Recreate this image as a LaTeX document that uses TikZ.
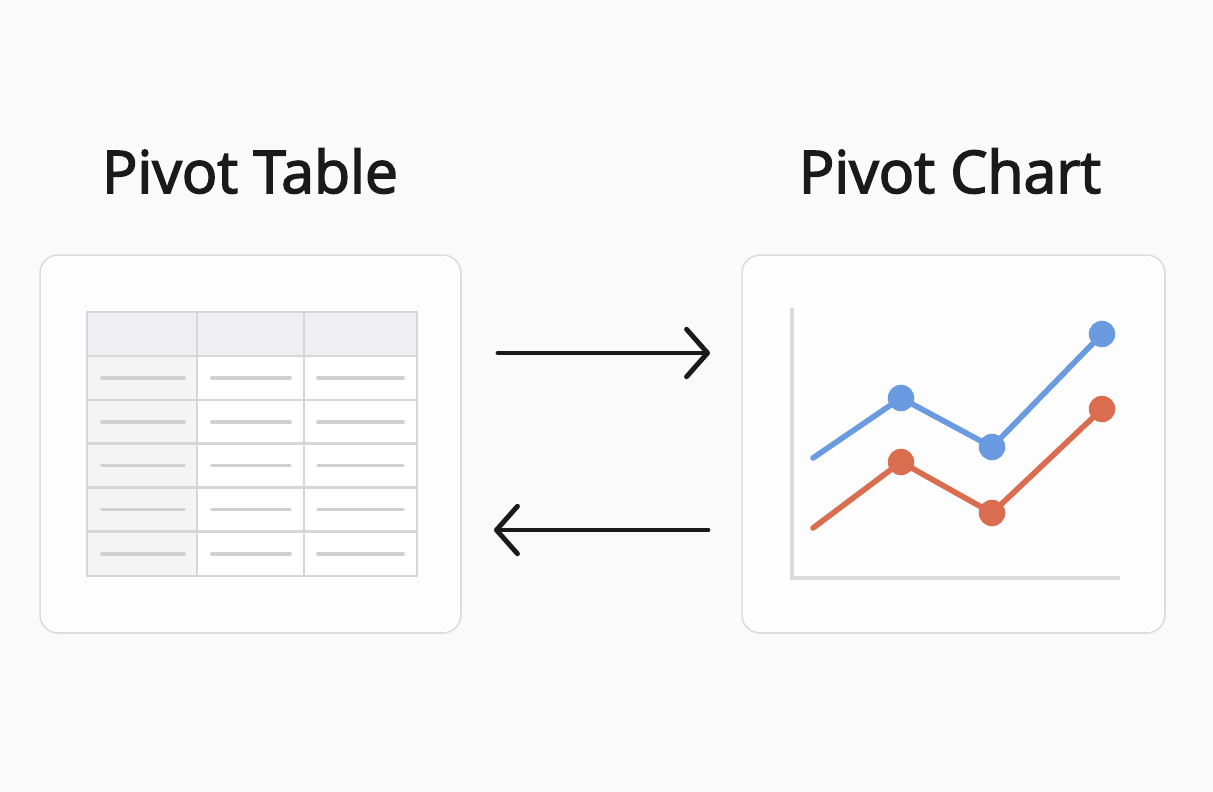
\documentclass[tikz,border=0pt]{standalone}
\usepackage{fontspec}
\setmainfont{Open Sans}
\newfontfamily\titlefont{Open Sans}[FakeBold=2.6]
\usetikzlibrary{arrows.meta,positioning,calc}
\definecolor{canvas}{RGB}{250,250,250}
\definecolor{panelfill}{RGB}{253,253,253}
\definecolor{panelline}{RGB}{220,220,220}
\definecolor{gridline}{RGB}{214,214,214}
\definecolor{headfill}{RGB}{239,239,241}
\definecolor{keyfill}{RGB}{244,244,244}
\definecolor{fillergray}{RGB}{208,208,208}
\definecolor{axisgray}{RGB}{218,218,218}
\definecolor{seriesblue}{RGB}{106,154,224}
\definecolor{seriesred}{RGB}{218,108,80}
\definecolor{ink}{RGB}{26,26,26}

\begin{document}
\begin{tikzpicture}[
    x=0.02cm, y=-0.02cm,
    title/.style={font=\titlefont\fontsize{33.5}{40}\selectfont, text=ink, anchor=base, inner sep=0pt},
    panel/.style={rectangle, rounded corners=0.36cm, draw=panelline, line width=0.9pt, fill=panelfill, minimum height=7.56cm},
    cell/.style={rectangle, draw=gridline, line width=1.3pt, minimum height=0.88cm, inner sep=0pt, fill=white},
    filler/.style={draw=fillergray, line width=2pt, line cap=round},
    marker/.style={circle, inner sep=0pt, minimum size=0.53cm},
    series/.style={line width=3.2pt, line cap=round, line join=round},
    flow/.style={draw=ink, line width=2.8pt, line cap=round, -{Straight Barb[length=0.42cm, width=0.95cm, round]}}
]
    \fill[canvas] (0,0) rectangle (1213,791);
    \useasboundingbox (0,0) rectangle (1213,791);

    % Titles
    \node[title] (tabletitle) at (250,193) {Pivot Table};
    \node[title] (charttitle) at (950,193) {Pivot Chart};

    % Panels
    \node[panel, minimum width=8.42cm] (tablebox) at (250.5,444) {};
    \node[panel, minimum width=8.46cm] (chartbox) at (953.5,444) {};

    % Table
    \node[cell, fill=headfill, minimum width=2.2cm] (h1) at (142,334) {};
    \node[cell, fill=headfill, minimum width=2.14cm] (h2) at (250.5,334) {};
    \node[cell, fill=headfill, minimum width=2.26cm] (h3) at (360.5,334) {};
    \foreach \r/\y in {1/378,2/422,3/465.5,4/509.5,5/554} {
        \node[cell, fill=keyfill, minimum width=2.2cm] (k\r) at (142,\y) {};
        \node[cell, minimum width=2.14cm] (m\r) at (250.5,\y) {};
        \node[cell, minimum width=2.26cm] (v\r) at (360.5,\y) {};
        \draw[filler] ([xshift=0.32cm]k\r.west) -- ([xshift=-0.28cm]k\r.east);
        \draw[filler] ([xshift=0.32cm]m\r.west) -- ([xshift=-0.3cm]m\r.east);
        \draw[filler] ([xshift=0.3cm]v\r.west) -- ([xshift=-0.3cm]v\r.east);
    }

    % Chart
    \draw[draw=axisgray, line width=2.3pt] (792,308) -- (792,578) -- (1120,578);

    \coordinate (b0) at (813,458);
    \coordinate (b1) at (901,398);
    \coordinate (b2) at (992,447);
    \coordinate (b3) at (1102,334);
    \coordinate (r0) at (813,528);
    \coordinate (r1) at (901,462);
    \coordinate (r2) at (992,513);
    \coordinate (r3) at (1102,409);
    \draw[series, seriesblue] (b0) -- (b1) -- (b2) -- (b3);
    \draw[series, seriesred] (r0) -- (r1) -- (r2) -- (r3);
    \node[marker, fill=seriesblue] (b1dot) at (b1) {};
    \node[marker, fill=seriesblue] (b2dot) at (b2) {};
    \node[marker, fill=seriesblue] (b3dot) at (b3) {};
    \node[marker, fill=seriesred] (r1dot) at (r1) {};
    \node[marker, fill=seriesred] (r2dot) at (r2) {};
    \node[marker, fill=seriesred] (r3dot) at (r3) {};

    % Arrows
    \coordinate (fwdtail) at (498,353);
    \coordinate (fwdhead) at (710,353);
    \coordinate (backtail) at (708,530);
    \coordinate (backhead) at (494,530);
    \draw[flow] (fwdtail) -- (fwdhead);
    \draw[flow] (backtail) -- (backhead);
\end{tikzpicture}
\end{document}
